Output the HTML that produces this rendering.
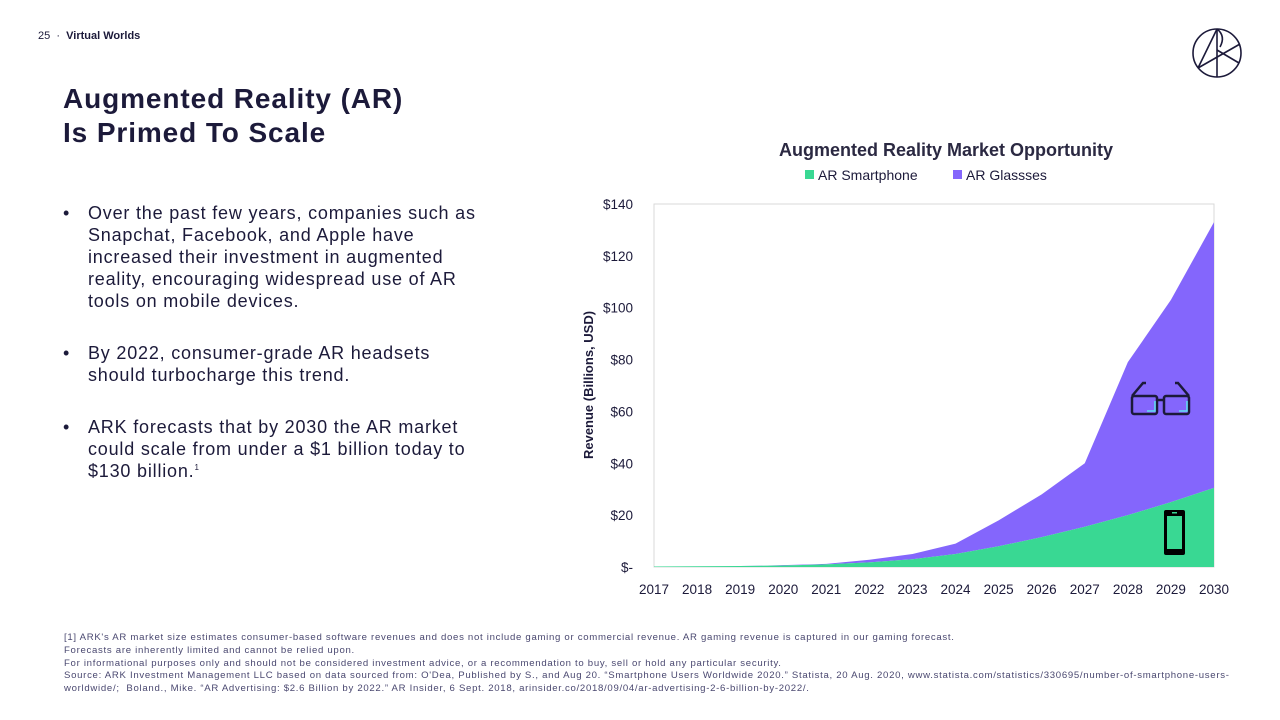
<!DOCTYPE html>
<html><head><meta charset="utf-8"><style>
body{margin:0;width:1280px;height:720px;background:#fff;font-family:"Liberation Sans",sans-serif;color:#1c1a3a;position:relative;overflow:hidden}
.abs{position:absolute}
.title{left:63px;top:82px;font-size:28px;font-weight:bold;line-height:34px;color:#1c1a3a;letter-spacing:0.9px}
ul{margin:0;padding:0;list-style:none}
li{position:relative;padding-left:25px;font-size:18px;line-height:22px;margin-bottom:30px;letter-spacing:0.8px}
li:before{content:"•";position:absolute;left:0;top:0}
.foot{left:64px;top:632px;font-size:9.6px;line-height:12.8px;color:#4a4870;width:1170px;letter-spacing:0.7px}
</style></head><body>
<div class="abs" style="left:38px;top:30px;font-size:11px">25 &nbsp;·&nbsp; <b>Virtual Worlds</b></div>
<svg class="abs" style="left:1190px;top:26px" width="54" height="54" viewBox="0 0 54 54"><g fill="none" stroke="#1c1a3a" stroke-width="1.6"><circle cx="27" cy="27" r="24"/><line x1="27" y1="3" x2="27" y2="51"/><line x1="8" y1="42" x2="27" y2="3"/><line x1="8" y1="42" x2="50" y2="18"/><line x1="27" y1="24" x2="49" y2="37"/><path d="M27 3 Q36 10 30 21"/></g></svg>
<div class="abs title">Augmented Reality (AR)<br>Is Primed To Scale</div>
<ul class="abs" style="left:63px;top:202px;width:422px">
<li>Over the past few years, companies such as Snapchat, Facebook, and Apple have increased their investment in augmented reality, encouraging widespread use of AR tools on mobile devices.</li>
<li>By 2022, consumer-grade AR headsets should turbocharge this trend.</li>
<li>ARK forecasts that by 2030 the AR market could scale from under a $1 billion today to $130 billion.<sup style="font-size:8px;line-height:0">1</sup></li>
</ul>
<svg id="chart" class="abs" style="left:0;top:0" width="1280" height="620"></svg>
<div class="abs foot">[1] ARK's AR market size estimates consumer-based software revenues and does not include gaming or commercial revenue. AR gaming revenue is captured in our gaming forecast.<br>Forecasts are inherently limited and cannot be relied upon.<br>For informational purposes only and should not be considered investment advice, or a recommendation to buy, sell or hold any particular security.<br>Source: ARK Investment Management LLC based on data sourced from: O'Dea, Published by S., and Aug 20. “Smartphone Users Worldwide 2020.” Statista, 20 Aug. 2020, www.statista.com/statistics/330695/number-of-smartphone-users-worldwide/;&nbsp; Boland., Mike. “AR Advertising: $2.6 Billion by 2022.” AR Insider, 6 Sept. 2018, arinsider.co/2018/09/04/ar-advertising-2-6-billion-by-2022/.</div>
<script>
const years=["2017","2018","2019","2020","2021","2022","2023","2024","2025","2026","2027","2028","2029","2030"];
const smartphone=[0.2,0.3,0.4,0.6,1.0,1.8,3,5,8,11.5,15.5,20,25,30.5];
const glasses=[0,0,0,0.1,0.2,1,2,4,10,16.5,24.5,59,78,102.5];
const yTicks=[0,20,40,60,80,100,120,140];
const yTickLabels=["$-","$20","$40","$60","$80","$100","$120","$140"];
const NS="http://www.w3.org/2000/svg",svg=document.getElementById('chart');
const X0=654,X1=1214,Y0=567,Y1=204;
const xs=i=>X0+(X1-X0)*i/(years.length-1);
const ys=v=>Y0-(Y0-Y1)*v/140;
function mk(t,a,txt){const e=document.createElementNS(NS,t);for(const k in a)e.setAttribute(k,a[k]);if(txt!=null)e.textContent=txt;svg.appendChild(e);return e;}
let e=mk('rect',{x:X0,y:Y1,width:X1-X0,height:Y0-Y1,fill:'none',stroke:'#d9d9d9','stroke-width':1});


const tot=smartphone.map((v,i)=>v+glasses[i]);
const topPts=years.map((_,i)=>xs(i)+','+ys(tot[i])).join(' ');
const midPts=years.map((_,i)=>xs(i)+','+ys(smartphone[i]));
e=mk('polygon',{points:topPts+' '+midPts.slice().reverse().join(' '),fill:'#8466fc'});


e=mk('polygon',{points:midPts.join(' ')+' '+xs(years.length-1)+','+Y0+' '+X0+','+Y0,fill:'#39d893'});


yTicks.forEach((v,i)=>{e=mk('text',{x:633,y:ys(v)+5,'text-anchor':'end','font-size':13.5,fill:'#1c1a3a','font-family':'Liberation Sans'},yTickLabels[i]);

});
years.forEach((yr,i)=>{e=mk('text',{x:xs(i),y:594,'text-anchor':'middle','font-size':13.5,fill:'#1c1a3a','font-family':'Liberation Sans'},yr);

});
e=mk('text',{x:0,y:0,transform:'translate(593,385) rotate(-90)','text-anchor':'middle','font-size':13,'font-weight':'bold',fill:'#1c1a3a','font-family':'Liberation Sans'},'Revenue (Billions, USD)');


e=mk('text',{x:946,y:156,'text-anchor':'middle','font-size':18,'font-weight':'bold',fill:'#2b2942','font-family':'Liberation Sans'},'Augmented Reality Market Opportunity');


e=mk('rect',{x:805,y:170,width:9,height:9,fill:'#39d893'});


e=mk('text',{x:818,y:180,'font-size':14,fill:'#1c1a3a','font-family':'Liberation Sans'},'AR Smartphone');


e=mk('rect',{x:953,y:170,width:9,height:9,fill:'#8466fc'});


e=mk('text',{x:966,y:180,'font-size':14,fill:'#1c1a3a','font-family':'Liberation Sans'},'AR Glassses');


const g=document.createElementNS(NS,'g');svg.appendChild(g);


g.innerHTML='<g fill="none" stroke="#1c1a3a" stroke-width="2.5"><rect x="1132" y="396" width="25" height="18" rx="2"/><rect x="1164" y="396" width="25" height="18" rx="2"/><path d="M1157 400h7M1132 396l11-13h3M1189 396l-11-13h-3"/></g><path d="M1147 411h8v-10" stroke="#5fe0f0" stroke-width="1.5" fill="none"/><path d="M1179 411h8v-10" stroke="#5fe0f0" stroke-width="1.5" fill="none"/>';
const p=document.createElementNS(NS,'g');svg.appendChild(p);


p.innerHTML='<rect x="1164" y="510" width="21" height="45" rx="2" fill="#000"/><rect x="1167" y="516" width="15" height="33" fill="#39d893"/><rect x="1172" y="512" width="5" height="1.5" fill="#39d893"/>';
</script>
</body></html>
